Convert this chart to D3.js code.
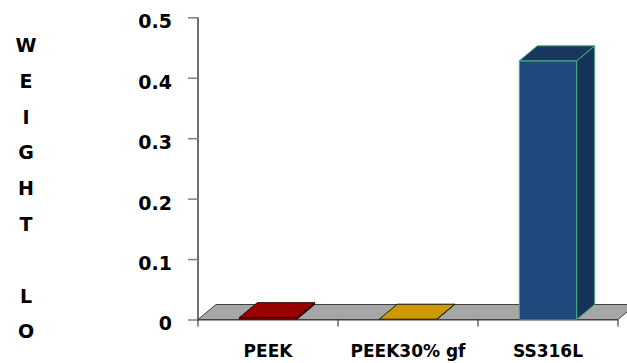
<!DOCTYPE html>
<html>
<head>
<meta charset="utf-8">
<script src="https://cdn.jsdelivr.net/npm/d3@7"></script>
<style>
  body { margin: 0; background: #fff; }
  text { font-family: "DejaVu Sans", sans-serif; font-weight: bold; fill: #000; }
</style>
</head>
<body>
<div class="chart"></div>
<script>
// Data
const categories = ["PEEK", "PEEK30% gf", "SS316L"];
const weightLoss = [0.003, 0.0005, 0.428];
const yTicks = [0, 0.1, 0.2, 0.3, 0.4, 0.5];
const axisTitle = "WEIGHT LO"; // rest of the title falls below the picture

// face colours per bar: [front, top, side, edge]
const faceColors = [
    ["#7a0000", "#990000", "#5c0000", "#2a0000"],
    ["#a87e00", "#cc9900", "#8a6800", "#1a1a1a"],
    ["#1f497d", "#17375e", "#16345a", "#4bac7e"]
];

const width = 627, height = 363;
const depthX = 18, depthY = -15;

const svg = d3.select(".chart").append("svg")
    .attr("width", width)
    .attr("height", height);

// scales
const x = d3.scaleBand()
    .domain(categories)
    .range([198, 618])
    .padding(0);

const y = d3.scaleLinear()
    .domain([0, 0.5])
    .range([319.5, 17.3]);

const barW = x.bandwidth() * 0.41;
const y0 = y(0);

// floor
const floorPts = [[198, y0], [618, y0], [618 + depthX, y0 + depthY], [198 + depthX, y0 + depthY]];
svg.append("polygon")
    .attr("points", floorPts.map(p => p.join(",")).join(" "))
    .attr("fill", "#a6a6a6")
    .attr("stroke", "#404040")
    .attr("stroke-width", 1);

// bars (3d)
const bars = svg.selectAll("g.bar")
    .data(categories.map((c, i) => ({ cat: c, value: weightLoss[i], col: faceColors[i] })))
    .enter()
    .append("g")
    .attr("class", "bar");

bars.each(function(d) {
    const g = d3.select(this);
    const x0 = x(d.cat) + (x.bandwidth() - barW) / 2;
    const x1 = x0 + barW;
    const yt = y(d.value);
    const pts = arr => arr.map(p => p.join(",")).join(" ");

    g.append("polygon")
        .attr("points", pts([[x0, yt], [x1, yt], [x1, y0], [x0, y0]]))
        .attr("fill", d.col[0])
        .attr("stroke", d.col[3])
        .attr("stroke-width", 1);

    g.append("polygon")
        .attr("points", pts([[x1, yt], [x1 + depthX, yt + depthY], [x1 + depthX, y0 + depthY], [x1, y0]]))
        .attr("fill", d.col[2])
        .attr("stroke", d.col[3])
        .attr("stroke-width", 1);

    g.append("polygon")
        .attr("points", pts([[x0, yt], [x1, yt], [x1 + depthX, yt + depthY], [x0 + depthX, yt + depthY]]))
        .attr("fill", d.col[1])
        .attr("stroke", d.col[3])
        .attr("stroke-width", 1);
});

// y axis
const yAxis = svg.append("g")
    .attr("transform", "translate(198,0)")
    .call(d3.axisLeft(y).tickValues(yTicks).tickSize(10).tickFormat(d3.format("")));
yAxis.select(".domain").attr("stroke", "#404040").attr("stroke-width", 1.5)
    .attr("d", `M0,${y(0.5)}V${y0 + 1}`);
yAxis.selectAll(".tick line").attr("stroke", "#808080").attr("stroke-width", 1.5);
yAxis.selectAll(".tick text")
    .attr("x", -26)
    .attr("dy", "0.55em")
    .style("font-size", "19px")
    .style("font-family", "DejaVu Sans")
    .style("font-weight", "bold")
    .attr("fill", "#000");

// x axis with ticks at band boundaries
const xAxis = svg.append("g");
xAxis.append("line")
    .attr("x1", 198).attr("x2", 618)
    .attr("y1", y0 + 0.5).attr("y2", y0 + 0.5)
    .attr("stroke", "#404040").attr("stroke-width", 1.2);
const bounds = categories.map(c => x(c)).concat([x.range()[1]]);
xAxis.selectAll("line.tk")
    .data(bounds)
    .enter()
    .append("line")
    .attr("class", "tk")
    .attr("x1", d => d).attr("x2", d => d)
    .attr("y1", y0).attr("y2", y0 + 7)
    .attr("stroke", "#404040").attr("stroke-width", 1.2);
xAxis.selectAll("text")
    .data(categories)
    .enter()
    .append("text")
    .attr("x", d => x(d) + x.bandwidth() / 2)
    .attr("y", 357)
    .attr("text-anchor", "middle")
    .style("font-size", "17px")
    .text(d => d);

// vertical axis title, one letter per line
svg.append("g")
    .selectAll("text")
    .data(axisTitle.split(""))
    .enter()
    .append("text")
    .attr("x", 26)
    .attr("y", (d, i) => 52 + i * 35.8)
    .attr("text-anchor", "middle")
    .style("font-size", "19px")
    .text(d => d);
</script>
</body>
</html>
